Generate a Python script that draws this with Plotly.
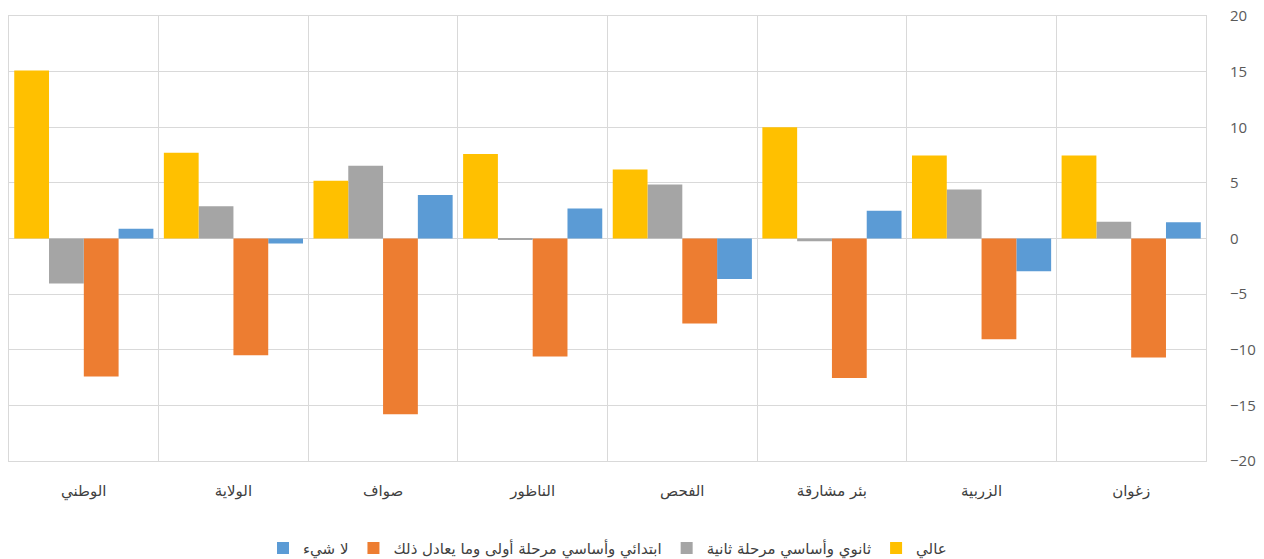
import plotly.graph_objects as go

categories = ["زغوان", "الزربية", "بئر مشارقة", "الفحص", "الناظور", "صواف", "الولاية", "الوطني"]

series_names = ["لا شيء", "ابتدائي وأساسي مرحلة أولى وما يعادل ذلك", "ثانوي وأساسي مرحلة ثانية", "عالي"]
none_vals = [1.45, -2.95, 2.5, -3.65, 2.7, 3.9, -0.45, 0.87]
primary_vals = [-10.7, -9.05, -12.55, -7.65, -10.6, -15.8, -10.5, -12.4]
secondary_vals = [1.5, 4.4, -0.25, 4.85, -0.1, 6.55, 2.9, -4.05]
higher_vals = [7.45, 7.45, 10.0, 6.2, 7.6, 5.2, 7.7, 15.1]
colors = ["#5B9BD5", "#ED7D31", "#A5A5A5", "#FFC000"]

y_ticks = [-20, -15, -10, -5, 0, 5, 10, 15, 20]

fig = go.Figure()
for name, vals, col in zip(series_names, [none_vals, primary_vals, secondary_vals, higher_vals], colors):
    fig.add_trace(go.Bar(x=categories, y=vals, name=name, marker=dict(color=col, line=dict(width=0))))

fig.update_layout(
    width=1264, height=559,
    barmode="group", bargap=0.07, bargroupgap=0,
    plot_bgcolor="white", paper_bgcolor="white",
    margin=dict(l=9, r=58, t=16, b=98, autoexpand=False),
    showlegend=True,
    legend=dict(orientation="h", x=0.5, xanchor="center", y=-0.196, yanchor="middle",
                font=dict(family="DejaVu Sans", size=15, color="#404040"),
                itemwidth=30, traceorder="normal", tracegroupgap=0),
    xaxis=dict(autorange="reversed", tickson="boundaries", showgrid=True, gridcolor="#D9D9D9", gridwidth=1,
               showline=True, linecolor="#D9D9D9", linewidth=1, mirror=True, ticks="", tickangle=0,
               automargin=False, ticklabelstandoff=16,
               tickfont=dict(family="DejaVu Sans", size=15, color="#404040")),
    yaxis=dict(side="right", range=[-20, 20], tickvals=y_ticks, showgrid=True, gridcolor="#D9D9D9", gridwidth=1,
               zeroline=True, zerolinecolor="#D9D9D9", zerolinewidth=1, automargin=False,
               showline=True, linecolor="#D9D9D9", linewidth=1, mirror=True, ticks="",
               tickfont=dict(family="Open Sans", size=15, color="#595959"), ticklabelstandoff=20),
)

fig.write_html("out.html", config={"displayModeBar": False},
               post_script="document.body.style.margin='0';")
